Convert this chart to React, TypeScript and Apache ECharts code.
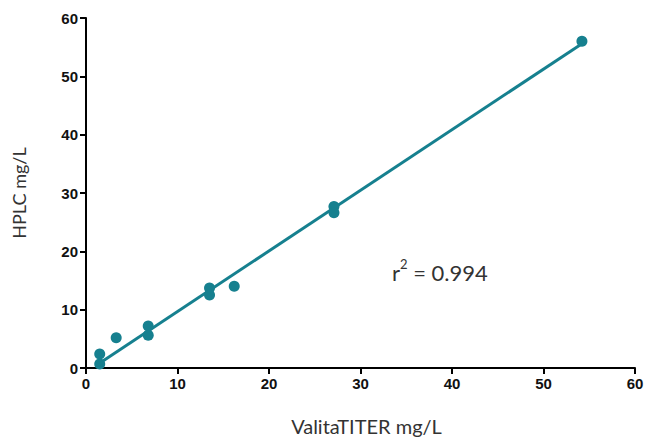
import React, { useEffect, useRef } from "react";
import * as echarts from "echarts";

const xTicks = [0, 10, 20, 30, 40, 50, 60];
const yTicks = [0, 10, 20, 30, 40, 50, 60];
const valitaTiter = [1.5, 1.5, 3.3, 6.8, 6.8, 13.5, 13.5, 16.2, 27.1, 27.1, 54.2];
const hplc = [0.7, 2.4, 5.2, 7.2, 5.6, 13.7, 12.5, 14.0, 27.7, 26.6, 56.0];
const fitLine = [
  [1.6, 0.95],
  [54.2, 55.6],
];
const xTitle = "ValitaTITER mg/L";
const yTitle = "HPLC mg/L";
const r2Text = "0.994";

const teal = "#16808f";

export default function App() {
  const ref = useRef<HTMLDivElement>(null);
  useEffect(() => {
    const chart = echarts.init(ref.current!, null, { renderer: "svg" });
    const axisLabel = {
      color: "#111",
      fontFamily: "Liberation Sans, Arial, sans-serif",
      fontWeight: "bold" as const,
      fontSize: 15,
    };
    chart.setOption({
      animation: false,
      grid: { left: 86, right: 21, top: 18, bottom: 68 },
      xAxis: {
        type: "value",
        min: xTicks[0],
        max: xTicks[xTicks.length - 1],
        interval: 10,
        name: xTitle,
        nameLocation: "middle",
        nameGap: 48,
        nameTextStyle: { color: "#333", fontFamily: "Lato, sans-serif", fontSize: 20, padding: [0, 0, 0, 12] },
        axisLine: { show: true, lineStyle: { color: "#000", width: 2 } },
        axisTick: { show: true, length: 6, lineStyle: { color: "#000", width: 2 } },
        axisLabel: { ...axisLabel, margin: 8 },
        splitLine: { show: false },
      },
      yAxis: {
        type: "value",
        min: yTicks[0],
        max: yTicks[yTicks.length - 1],
        interval: 10,
        name: yTitle,
        nameLocation: "middle",
        nameGap: 58,
        nameTextStyle: { color: "#333", fontFamily: "Lato, sans-serif", fontSize: 18 },
        axisLine: { show: true, lineStyle: { color: "#000", width: 2 } },
        axisTick: { show: true, length: 6, lineStyle: { color: "#000", width: 2 } },
        axisLabel: { ...axisLabel, margin: 8 },
        splitLine: { show: false },
      },
      series: [
        {
          type: "line",
          data: fitLine,
          symbol: "none",
          lineStyle: { color: teal, width: 3 },
          z: 2,
        },
        {
          type: "scatter",
          data: valitaTiter.map((x, i) => [x, hplc[i]]),
          symbol: "circle",
          symbolSize: 11,
          itemStyle: { color: teal, opacity: 1 },
          z: 3,
        },
      ],
      graphic: [
        {
          type: "text",
          left: 392,
          top: 257,
          style: {
            text: "{a|r}{s|2}{a| = " + r2Text + "}",
            rich: {
              a: { fontSize: 22, fontFamily: "Lato, sans-serif", fill: "#333", verticalAlign: "bottom", lineHeight: 26 },
              s: { fontSize: 13, fontFamily: "Lato, sans-serif", fill: "#333", verticalAlign: "top", lineHeight: 26, padding: [0, 0, 10, 0] },
            },
          },
        },
      ],
    });
    return () => chart.dispose();
  }, []);
  return (
    <div
      ref={ref}
      style={{ position: "fixed", left: 0, top: 0, width: 656, height: 441, background: "#fff" }}
    />
  );
}
